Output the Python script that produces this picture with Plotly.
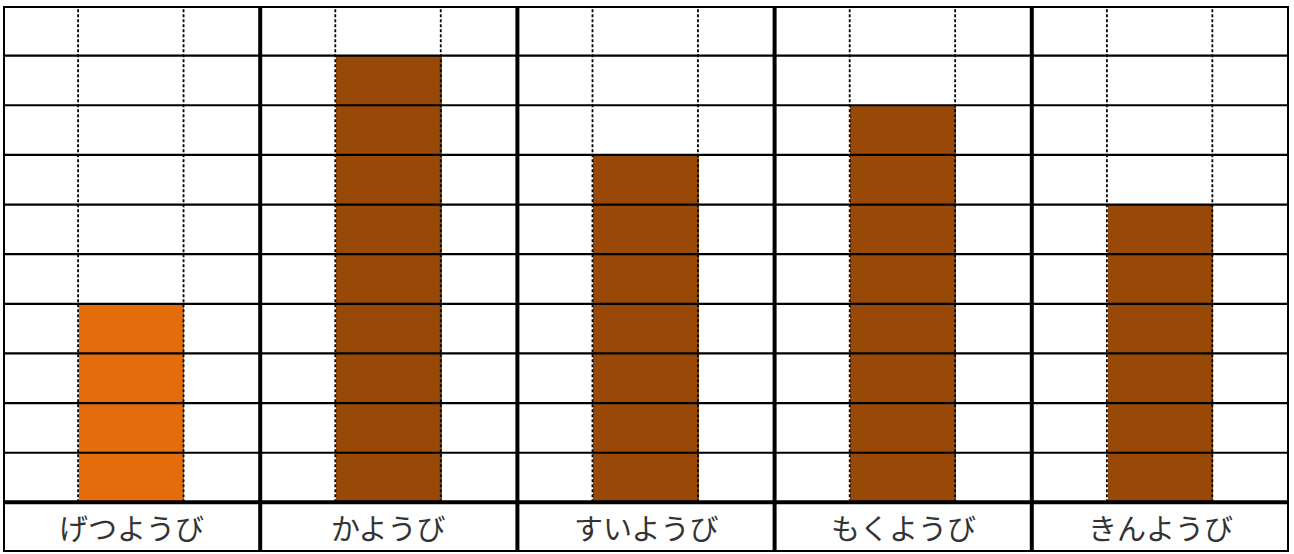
import plotly.graph_objects as go

days = ['げつようび', 'かようび', 'すいようび', 'もくようび', 'きんようび']
counts = [4, 9, 7, 8, 6]
bar_colors = ['#E46C0A', '#984807', '#984807', '#984807', '#984807']
n_rows = 10

# each day gets a column of width 1, the bar sits in the middle third
cols = list(range(len(days)))
centers = [c + 0.5 for c in cols]
sub_left, sub_right = 0.292, 0.702

fig = go.Figure()
fig.add_trace(go.Bar(x=centers, y=counts, width=sub_right - sub_left,
                     marker=dict(color=bar_colors, line=dict(width=0)),
                     hoverinfo='skip', showlegend=False))

shapes = []
# thin horizontal row lines
for r in range(1, n_rows):
    shapes.append(dict(type='line', xref='x', yref='y', x0=0, x1=len(days), y0=r, y1=r,
                       line=dict(color='black', width=2.2), layer='above'))
# dashed sub-column lines
for c in cols:
    for f in (sub_left, sub_right):
        shapes.append(dict(type='line', xref='x', yref='y', x0=c + f, x1=c + f, y0=0, y1=n_rows,
                           line=dict(color='black', width=1.8, dash='3px,2px'), layer='above'))
# thick column dividers and borders
for c in range(len(days) + 1):
    shapes.append(dict(type='line', xref='x', yref='y', x0=c, x1=c, y0=-1, y1=n_rows,
                       line=dict(color='black', width=4), layer='above'))
for y in (-1, 0, n_rows):
    shapes.append(dict(type='line', xref='x', yref='y', x0=0, x1=len(days), y0=y, y1=y,
                       line=dict(color='black', width=4), layer='above'))

annotations = [dict(x=x, y=-0.5, xref='x', yref='y', text=d, showarrow=False,
                    font=dict(family='Noto Sans CJK JP', size=29, color='#333333'))
               for x, d in zip(centers, days)]

fig.update_layout(
    width=1294, height=554,
    margin=dict(l=3, r=5, t=6, b=2),
    paper_bgcolor='white', plot_bgcolor='white',
    shapes=shapes, annotations=annotations,
    xaxis=dict(range=[0, len(days)], visible=False, fixedrange=True),
    yaxis=dict(range=[-1, n_rows], visible=False, fixedrange=True),
    bargap=0,
)

fig.write_html("out.html", config={'displayModeBar': False},
               post_script="document.body.style.margin='0';")
